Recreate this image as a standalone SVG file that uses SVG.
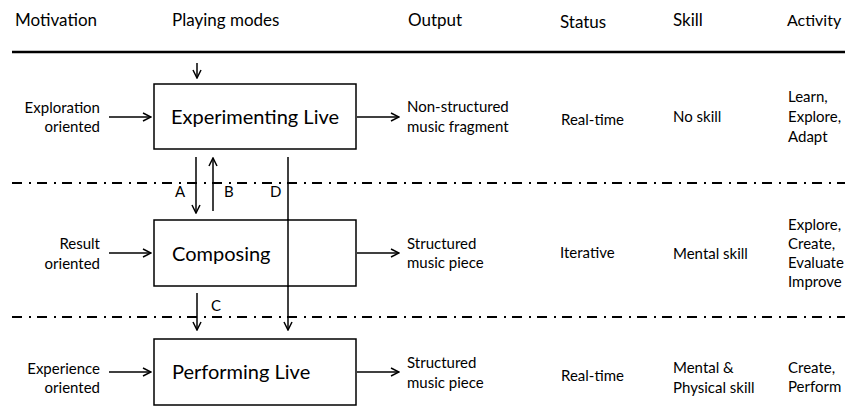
<svg xmlns="http://www.w3.org/2000/svg" width="845" height="406" viewBox="0 0 845 406">
<style>
text{font-family:Lato,"Liberation Sans",sans-serif;fill:#000}
.h{font-size:17px}
.s{font-size:15px}
.b{font-size:20px}
.box{fill:#fff;stroke:#000;stroke-width:1.5}
.ln{stroke:#000;stroke-width:1.5;fill:none}
.dd{stroke:#000;stroke-width:2;stroke-dasharray:10 7 2 6;fill:none}
.r{text-anchor:end}
</style>
<defs>
<marker id="ah" viewBox="0 0 10 10" refX="9" refY="5" markerWidth="10" markerHeight="10" markerUnits="userSpaceOnUse" orient="auto">
<path d="M1,1 L9,5 L1,9" fill="none" stroke="#000" stroke-width="1.5"/>
</marker>
</defs>
<rect width="845" height="406" fill="#fff"/>
<g id="headers">
<text class="h" x="15" y="26">Motivation</text>
<text class="h" x="172" y="26">Playing modes</text>
<text class="h" x="408" y="26">Output</text>
<text class="h" x="560" y="28">Status</text>
<text class="h" x="673" y="26">Skill</text>
<text class="h" x="787" y="26" style="font-size:16px">Activity</text>
</g>
<g id="separators">
<line x1="12" y1="52" x2="845" y2="52" stroke="#000" stroke-width="2.5"/>
<line class="dd" x1="12" y1="183" x2="845" y2="183"/>
<line class="dd" x1="12" y1="317" x2="845" y2="317"/>
</g>
<g id="connectors">
<line class="ln" x1="197" y1="63" x2="197" y2="78" marker-end="url(#ah)"/>
<line class="ln" x1="109" y1="117" x2="151" y2="117" marker-end="url(#ah)"/>
<line class="ln" x1="357" y1="117" x2="399" y2="117" marker-end="url(#ah)"/>
<line class="ln" x1="109" y1="253" x2="151" y2="253" marker-end="url(#ah)"/>
<line class="ln" x1="357" y1="253" x2="399" y2="253" marker-end="url(#ah)"/>
<line class="ln" x1="109" y1="372" x2="151" y2="372" marker-end="url(#ah)"/>
<line class="ln" x1="357" y1="372" x2="399" y2="372" marker-end="url(#ah)"/>
<line class="ln" x1="196" y1="157" x2="196" y2="213" marker-end="url(#ah)"/>
<line class="ln" x1="213" y1="211" x2="213" y2="158" marker-end="url(#ah)"/>
<line class="ln" x1="288" y1="157" x2="288" y2="330" marker-end="url(#ah)"/>
<line class="ln" x1="197" y1="293" x2="197" y2="330" marker-end="url(#ah)"/>
<text class="s" x="175" y="197">A</text>
<text class="s" x="224" y="197">B</text>
<text class="s" x="270" y="197">D</text>
<text class="s" x="211" y="311">C</text>
</g>
<g id="node-experimenting">
<rect class="box" x="154" y="84" width="202" height="65"/>
<text class="b" x="255" y="124" text-anchor="middle">Experimenting Live</text>
</g>
<g id="node-composing">
<rect class="box" x="154" y="220" width="202" height="66"/>
<text class="b" x="172" y="261">Composing</text>
</g>
<line class="ln" x1="288" y1="219" x2="288" y2="287"/>
<g id="node-performing">
<rect class="box" x="154" y="339" width="202" height="66"/>
<text class="b" x="172" y="379">Performing Live</text>
</g>
<g id="row1">
<text class="s r" x="100" y="113">Exploration</text>
<text class="s r" x="100" y="132">oriented</text>
<text class="s" x="407" y="112">Non-structured</text>
<text class="s" x="407" y="132">music fragment</text>
<text class="s" x="561" y="125">Real-time</text>
<text class="s" x="673" y="122">No skill</text>
<text class="s" x="788" y="102">Learn,</text>
<text class="s" x="788" y="122">Explore,</text>
<text class="s" x="788" y="142">Adapt</text>
</g>
<g id="row2">
<text class="s r" x="100" y="249">Result</text>
<text class="s r" x="100" y="269">oriented</text>
<text class="s" x="407" y="249">Structured</text>
<text class="s" x="407" y="268">music piece</text>
<text class="s" x="560" y="258">Iterative</text>
<text class="s" x="673" y="259">Mental skill</text>
<text class="s" x="788" y="230">Explore,</text>
<text class="s" x="788" y="249">Create,</text>
<text class="s" x="788" y="268">Evaluate</text>
<text class="s" x="788" y="287">Improve</text>
</g>
<g id="row3">
<text class="s r" x="100" y="374">Experience</text>
<text class="s r" x="100" y="393">oriented</text>
<text class="s" x="407" y="368">Structured</text>
<text class="s" x="407" y="388">music piece</text>
<text class="s" x="561" y="381">Real-time</text>
<text class="s" x="673" y="373">Mental &amp;</text>
<text class="s" x="673" y="393">Physical skill</text>
<text class="s" x="788" y="373">Create,</text>
<text class="s" x="788" y="392">Perform</text>
</g>
</svg>
